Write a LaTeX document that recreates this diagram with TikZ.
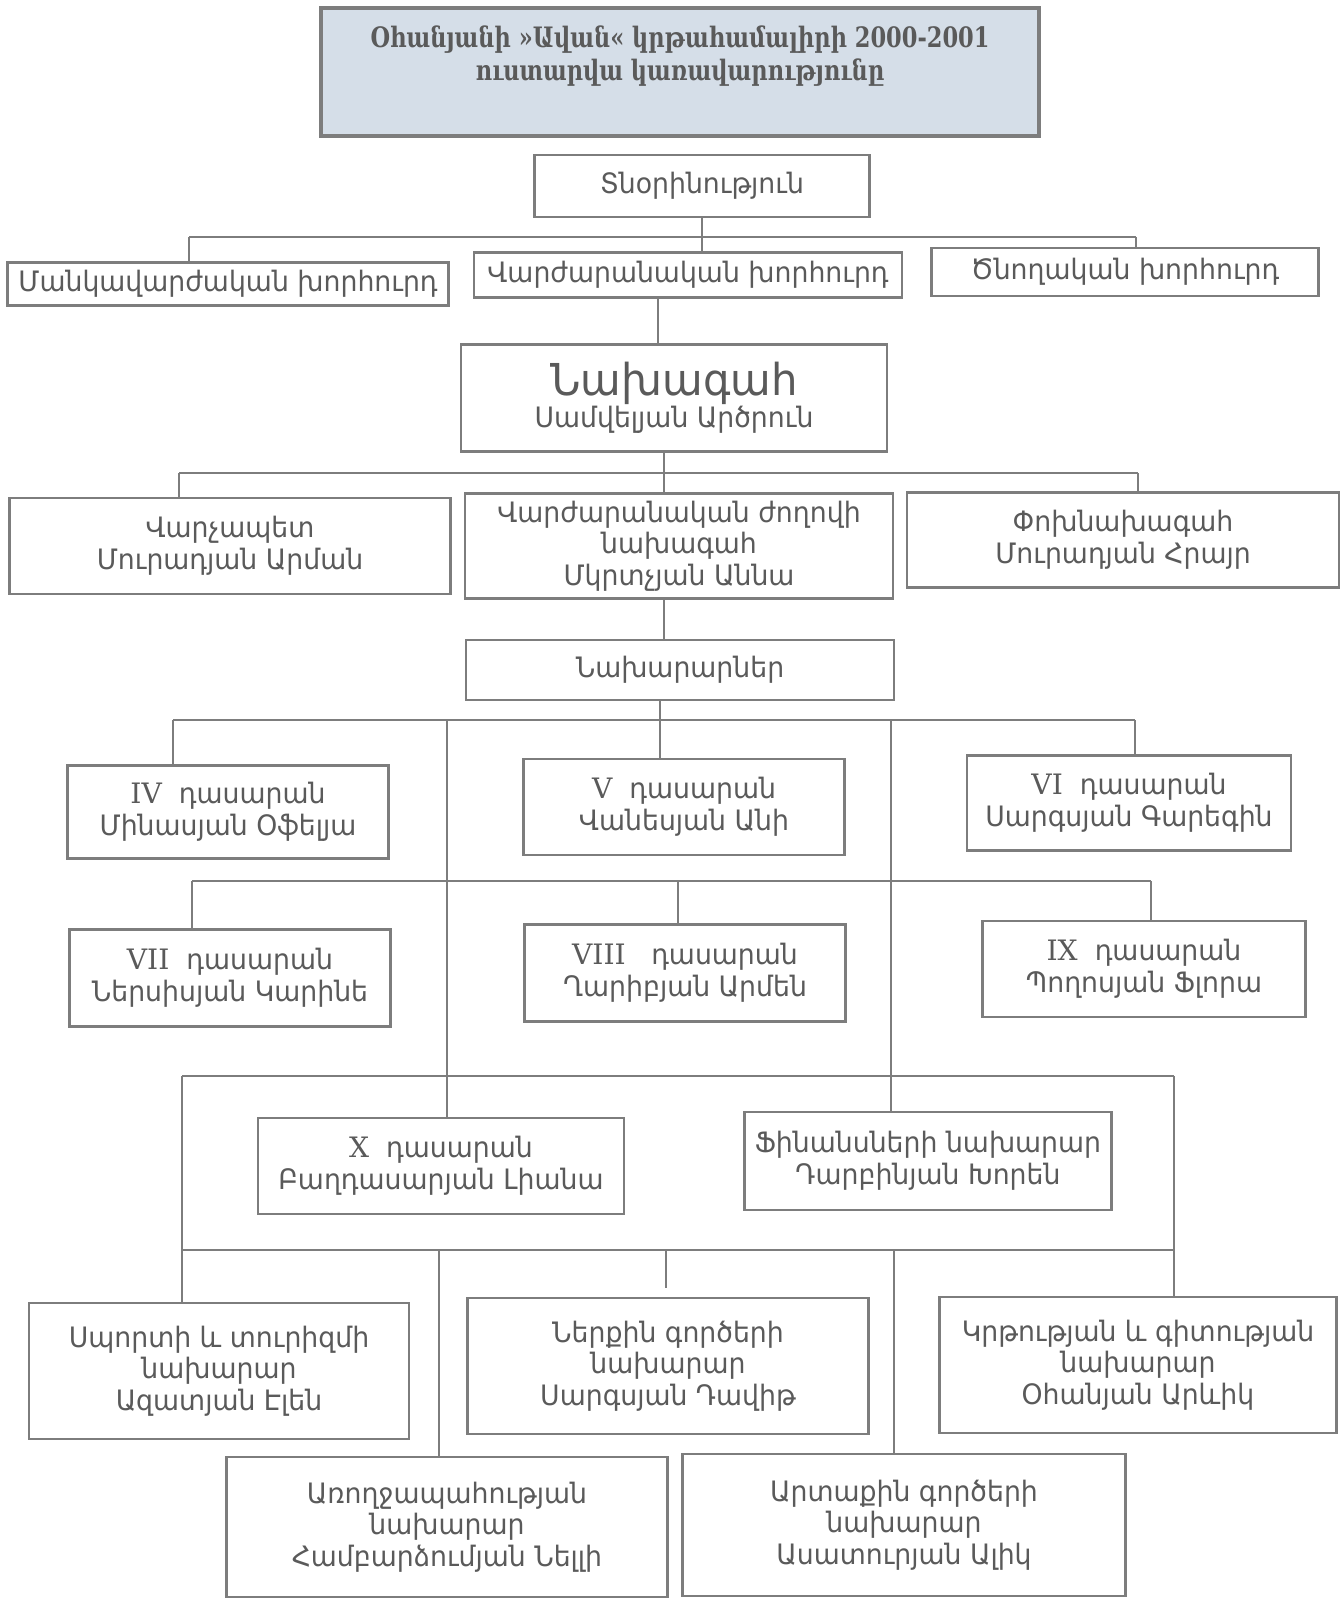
\documentclass[tikz,border=0pt]{standalone}
\usepackage{fontspec}
\setmainfont{DejaVu Sans}[FakeStretch=0.95]
\newfontfamily\titlefont{DejaVu Serif}[FakeStretch=0.8]
\newfontfamily\numfont{DejaVu Serif}
\usetikzlibrary{math}

\definecolor{rulegray}{RGB}{125,125,125}
\definecolor{inkgray}{RGB}{90,90,90}
\definecolor{titleblue}{RGB}{213,222,232}

\tikzset{
    orgbox/.style={draw=rulegray, line width=0.8pt, text=inkgray, align=center,
        inner sep=1pt, font=\fontsize{8}{9}\selectfont},
    boxsize/.style 2 args={minimum width=#1*0.01cm, minimum height=#2*0.01cm},
    wire/.style={draw=rulegray, line width=0.6pt},
}

\begin{document}
\begin{tikzpicture}[x=0.01cm, y=-0.01cm]

\useasboundingbox (0,0) rectangle (1343,1600);

% Title
\node[orgbox, boxsize={718}{128}, fill=titleblue, line width=1pt] (title) at (680,72) {};
\node[text=inkgray, align=center, font=\titlefont\bfseries\fontsize{8}{9.6}\selectfont]
    (titletext) at (680,56) {Օհանյանի »Ավան« կրթահամալիրի 2000-2001\\ուստարվա կառավարությունը};

% Councils
\node[orgbox, boxsize={335}{62}] (dir) at (702,186) {Տնօրինություն};
\node[orgbox, boxsize={441}{43}] (ped) at (228,284) {Մանկավարժական խորհուրդ};
\node[orgbox, boxsize={428}{45}] (sch) at (688,275) {Վարժարանական խորհուրդ};
\node[orgbox, boxsize={387}{48}] (par) at (1125,272) {Ծնողական խորհուրդ};

% President and government
\node[orgbox, boxsize={426}{107}] (pres) at (674,398)
    {{\fontsize{12.5}{15}\selectfont Նախագահ}\\Սամվելյան Արծրուն};
\node[orgbox, boxsize={441}{96}] (pm) at (230,546) {Վարչապետ\\Մուրադյան Արման};
\node[orgbox, boxsize={428}{105}] (spk) at (679,546)
    {Վարժարանական ժողովի\\նախագահ\\Մկրտչյան Աննա};
\node[orgbox, boxsize={432}{95}] (vp) at (1123,540) {Փոխնախագահ\\Մուրադյան Հրայր};
\node[orgbox, boxsize={428}{60}] (mins) at (680,670) {Նախարարներ};

% Classes
\node[orgbox, boxsize={321}{93}] (c4) at (228,812) {{\numfont IV}~~դասարան\\Մինասյան Օֆելյա};
\node[orgbox, boxsize={321}{96}] (c5) at (684,807) {{\numfont V}~~դասարան\\Վանեսյան Անի};
\node[orgbox, boxsize={324}{95}] (c6) at (1129,803) {{\numfont VI}~~դասարան\\Սարգսյան Գարեգին};
\node[orgbox, boxsize={321}{97}] (c7) at (230,978) {{\numfont VII}~~դասարան\\Ներսիսյան Կարինե};
\node[orgbox, boxsize={321}{97}] (c8) at (685,973) {{\numfont VIII}~~~դասարան\\Ղարիբյան Արմեն};
\node[orgbox, boxsize={323}{96}] (c9) at (1144,969) {{\numfont IX}~~դասարան\\Պողոսյան Ֆլորա};
\node[orgbox, boxsize={366}{96}] (c10) at (441,1166) {{\numfont X}~~դասարան\\Բաղդասարյան Լիանա};
\node[orgbox, boxsize={367}{98}] (fin) at (928,1161) {Ֆինանսների նախարար\\Դարբինյան Խորեն};

% Ministers
\node[orgbox, boxsize={380}{136}] (sport) at (219,1371)
    {Սպորտի և տուրիզմի\\նախարար\\Ազատյան Էլեն};
\node[orgbox, boxsize={401}{136}] (intr) at (668,1366)
    {Ներքին գործերի\\նախարար\\Սարգսյան Դավիթ};
\node[orgbox, boxsize={397}{136}] (edu) at (1138,1365)
    {Կրթության և գիտության\\նախարար\\Օհանյան Արևիկ};
\node[orgbox, boxsize={441}{140}] (health) at (447,1527)
    {Առողջապահության\\նախարար\\Համբարձումյան Նելլի};
\node[orgbox, boxsize={443}{142}] (ext) at (904,1525)
    {Արտաքին գործերի\\նախարար\\Ասատուրյան Ալիկ};

% Bus lines
\coordinate (bus1l) at (189,237);
\coordinate (bus1r) at (1136,237);
\coordinate (bus2l) at (179,473);
\coordinate (bus2r) at (1138,473);
\coordinate (bus3l) at (173,720);
\coordinate (bus3r) at (1135,720);
\coordinate (bus4l) at (192,881);
\coordinate (bus4r) at (1151,881);
\coordinate (frtl) at (182,1076);
\coordinate (frtr) at (1174,1076);
\coordinate (frbl) at (182,1250);
\coordinate (frbr) at (1174,1250);

\foreach \a/\b in {bus1l/bus1r, bus2l/bus2r, bus3l/bus3r, bus4l/bus4r, frtl/frtr, frbl/frbr}
    \draw[wire] (\a) -- (\b);

% Vertical stems
\coordinate (v1) at (658,0);
\coordinate (v2) at (664,0);
\coordinate (v3) at (660,0);
\draw[wire] (dir.south) -- (dir.south |- sch.north);
\draw[wire] (sch.south -| v1) -- (pres.north -| v1);
\draw[wire] (pres.south -| v2) -- (spk.north -| v2);
\draw[wire] (spk.south -| v2) -- (mins.north -| v2);
\draw[wire] (mins.south -| v3) -- (c5.north -| v3);

% Drops from the buses
\coordinate (lvl) at (447,720);
\coordinate (lvr) at (891,720);
\coordinate (v4) at (678,881);
\coordinate (v5) at (439,1250);
\coordinate (v6) at (894,1250);
\foreach \a/\b in {bus1l/ped, bus1r/par, bus2l/pm, bus2r/vp, bus3l/c4, bus3r/c6,
    lvl/c10, lvr/fin, bus4l/c7, v4/c8, bus4r/c9,
    frtl/sport, frtr/edu, v5/health, v6/ext}
    \draw[wire] (\a) -- (\a |- \b.north);

% Short stub above the interior ministry
\coordinate (stubtop) at (666,1250);
\coordinate (stubend) at (666,1288);
\draw[wire] (stubtop) -- (stubend);

\end{tikzpicture}
\end{document}
